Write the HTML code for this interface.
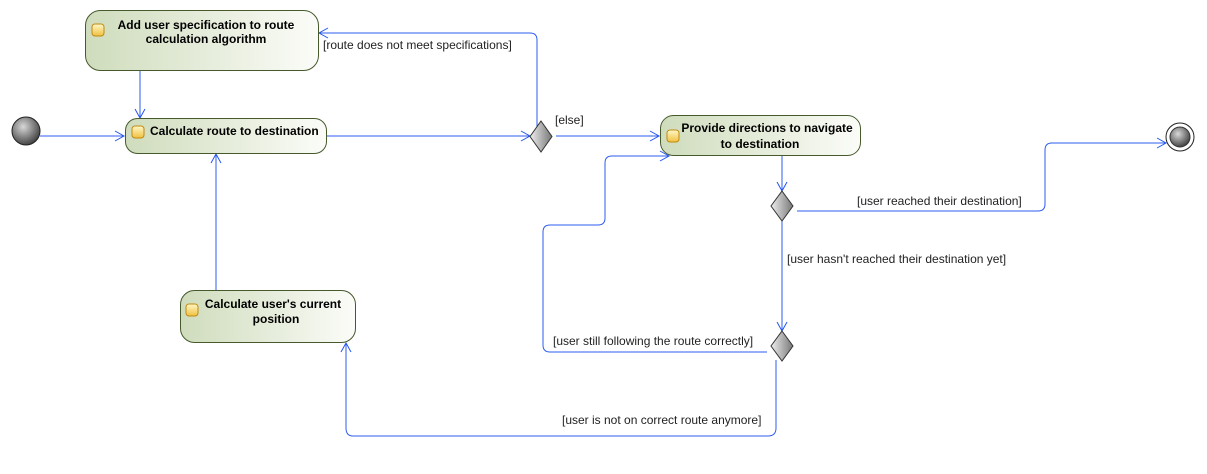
<!DOCTYPE html>
<html><head><meta charset="utf-8"><style>
body{margin:0;background:#fff;}
svg text{font-family:"Liberation Sans",Arial,sans-serif;font-size:12px;fill:#222;}
.b{font-weight:bold;fill:#000;}
</style></head><body>
<svg width="1207" height="469" viewBox="0 0 1207 469" xmlns="http://www.w3.org/2000/svg">
<defs>
<linearGradient id="g" x1="0" x2="1" y1="0" y2="0"><stop offset="0" stop-color="#cfdcbc"/><stop offset="1" stop-color="#fbfcf8"/></linearGradient>
<radialGradient id="c" cx="0.4" cy="0.35" r="0.7"><stop offset="0" stop-color="#d8d8d8"/><stop offset="1" stop-color="#3a3a3a"/></radialGradient>
<linearGradient id="d" x1="0" x2="1"><stop offset="0" stop-color="#eee"/><stop offset="1" stop-color="#777"/></linearGradient>
<linearGradient id="ic" x1="0" y1="0" x2="0" y2="1"><stop offset="0" stop-color="#fff8c8"/><stop offset="1" stop-color="#f0c040"/></linearGradient>
<marker id="a" markerWidth="12" markerHeight="12" refX="10" refY="6" orient="auto" markerUnits="userSpaceOnUse"><path d="M1,1 L10,6 L1,11" fill="none" stroke="#2255ee" stroke-width="1"/></marker>
</defs>
<g fill="none" stroke="#2e5cf0" stroke-width="1">
<path d="M40,136 H124" marker-end="url(#a)"/>
<path d="M140,70 V118" marker-end="url(#a)"/>
<path d="M326,136 H530" marker-end="url(#a)"/>
<path d="M537,128 V40 Q537,33 530,33 H319" marker-end="url(#a)"/>
<path d="M556,136 H659" marker-end="url(#a)"/>
<path d="M782,155 V191" marker-end="url(#a)"/>
<path d="M797,211 H1038 Q1045,211 1045,204 V150 Q1045,143 1052,143 H1166" marker-end="url(#a)"/>
<path d="M782,220 V331" marker-end="url(#a)"/>
<path d="M767,352 H550 Q543,352 543,345 V232 Q543,225 550,225 H598 Q605,225 605,218 V163 Q605,156 612,156 H669" marker-end="url(#a)"/>
<path d="M776,360 V428 Q776,436 768,436 H353 Q346,436 346,428 V343" marker-end="url(#a)"/>
<path d="M216,290 V154" marker-end="url(#a)"/>
</g>
<circle cx="26" cy="131" r="14" fill="url(#c)" stroke="#222"/>
<circle cx="1180" cy="137" r="14" fill="#fff" stroke="#222"/>
<circle cx="1180" cy="137" r="10" fill="url(#c)" stroke="#333"/>
<g stroke="#465a2c" stroke-width="1" fill="url(#g)">
<rect x="85.5" y="10.5" width="233" height="60" rx="15"/>
<rect x="125.5" y="118.5" width="201" height="35" rx="12"/>
<rect x="660.5" y="115.5" width="200" height="40" rx="13"/>
<rect x="180.5" y="290.5" width="175" height="52" rx="14"/>
</g>
<g fill="url(#ic)" stroke="#c08a10">
<rect x="92" y="24" width="12" height="12" rx="3"/>
<rect x="132" y="126" width="12" height="12" rx="3"/>
<rect x="667" y="130" width="12" height="12" rx="3"/>
<rect x="186" y="304" width="12" height="12" rx="3"/>
</g>
<g fill="url(#d)" stroke="#333">
<path d="M541,121 L552,136.5 L541,152 L530,136.5 Z"/>
<path d="M782,191 L793,206 L782,221 L771,206 Z"/>
<path d="M782,331 L793,346 L782,361 L771,346 Z"/>
</g>
<text class="b" x="206" y="29" text-anchor="middle">Add user specification to route</text>
<text class="b" x="206" y="43" text-anchor="middle">calculation algorithm</text>
<text class="b" x="150" y="135">Calculate route to destination</text>
<text class="b" x="767" y="132" text-anchor="middle">Provide directions to navigate</text>
<text class="b" x="760" y="148" text-anchor="middle">to destination</text>
<text class="b" x="273" y="308" text-anchor="middle">Calculate user's current</text>
<text class="b" x="276" y="323" text-anchor="middle">position</text>
<text x="323" y="49">[route does not meet specifications]</text>
<text x="555" y="124">[else]</text>
<text x="857" y="205">[user reached their destination]</text>
<text x="787" y="263">[user hasn't reached their destination yet]</text>
<text x="553" y="345">[user still following the route correctly]</text>
<text x="562" y="424">[user is not on correct route anymore]</text>
</svg>
</body></html>
